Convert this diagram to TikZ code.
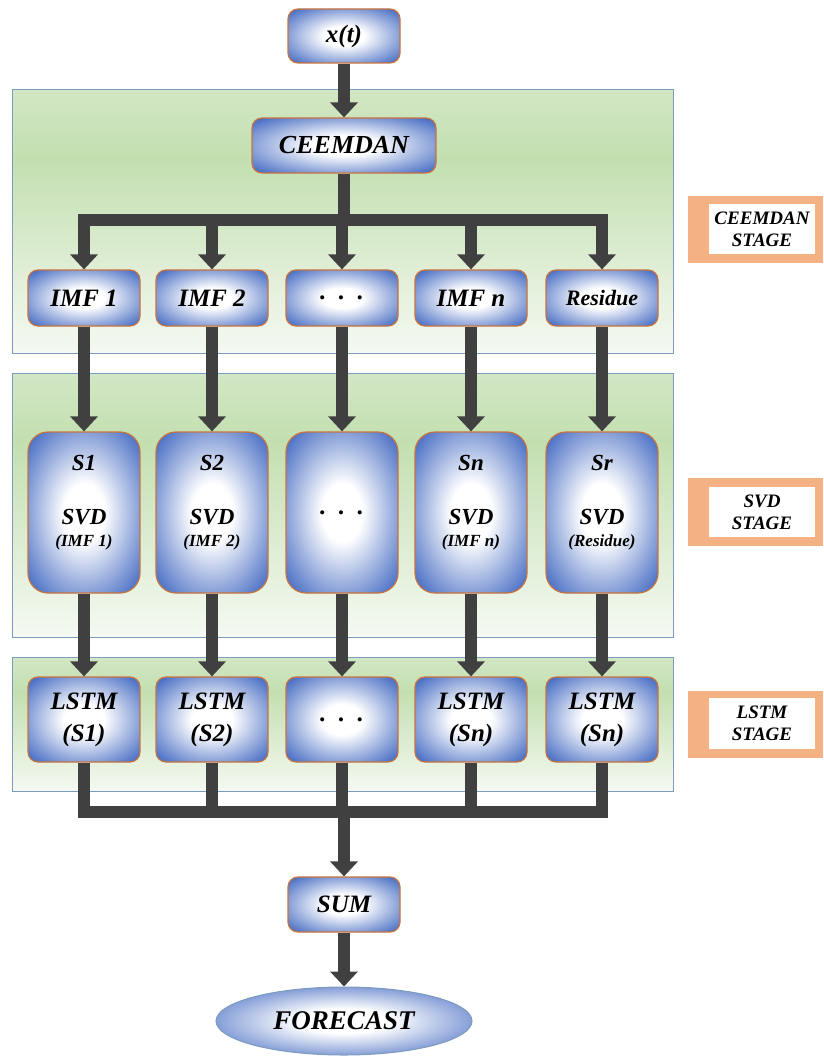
\documentclass[tikz,border=0pt]{standalone}
\usepackage{fontspec}
\setmainfont{Liberation Serif}
\usetikzlibrary{arrows.meta,shapes.geometric,calc}
\definecolor{boxblue}{HTML}{4A6FC4}
\definecolor{boxedge}{HTML}{C8733E}
\definecolor{connc}{HTML}{404040}
\definecolor{pgreen}{HTML}{C3DFB0}
\definecolor{pgreentop}{HTML}{D2E7C5}
\definecolor{pgreenbot}{HTML}{F5F9F2}
\definecolor{pedge}{HTML}{7C9CBE}
\definecolor{stageor}{HTML}{F4B183}
\pgfdeclareradialshading{boxshade}{\pgfpoint{0bp}{0bp}}{color(0bp)=(white); color(9bp)=(white); color(33bp)=(boxblue); color(50bp)=(boxblue)}
\pgfdeclareverticalshading{panelshade}{100bp}{color(0bp)=(pgreenbot); color(25bp)=(pgreenbot); color(62bp)=(pgreen); color(75bp)=(pgreentop); color(100bp)=(pgreentop)}
\tikzset{
  box/.style={draw=boxedge, line width=1.2pt, rounded corners=10pt, shading=boxshade,
    minimum width=112pt, minimum height=56pt, inner sep=0pt, align=center,
    font=\fontsize{25}{28}\selectfont\bfseries\itshape},
  tallbox/.style={box, rounded corners=20pt, minimum height=161pt},
  lstmbox/.style={box, minimum height=85pt, font=\fontsize{25}{32}\selectfont\bfseries\itshape},
  intext/.style={inner sep=0pt, font=\fontsize{23}{24}\selectfont\bfseries\itshape},
  smalltext/.style={inner sep=0pt, font=\fontsize{17}{18}\selectfont\bfseries\itshape},
  panel/.style={draw=pedge, line width=0.9pt, shading=panelshade},
  conn/.style={draw=connc, line width=12pt},
  arr/.style={conn, -{Triangle[width=27pt,length=15pt]}},
  stagetext/.style={inner sep=0pt, align=center, font=\fontsize{19}{22}\selectfont\bfseries\itshape}
}
\begin{document}
\begin{tikzpicture}[x=1pt,y=-1pt]
\useasboundingbox (0,0) rectangle (823,1057);
% panels
\path[panel] (12,89) rectangle (673,353);
\path[panel] (12,373) rectangle (673,637);
\path[panel] (12,657) rectangle (673,791);
% stage labels
\fill[stageor] (688,196) rectangle (823,263);
\fill[white] (709,204) rectangle (815,254);
\node[stagetext] (st1) at (762,229) {CEEMDAN\\STAGE};
\fill[stageor] (688,478) rectangle (823,546);
\fill[white] (709,487) rectangle (815,537);
\node[stagetext] (st2) at (762,512) {SVD\\STAGE};
\fill[stageor] (688,691) rectangle (823,758);
\fill[white] (709,698) rectangle (815,749);
\node[stagetext] (st3) at (762,723.5) {LSTM\\STAGE};
% nodes
\node[box, minimum height=54pt] (xt) at (344,36) {x(t)};
\node[box, minimum width=184pt, minimum height=55pt, font=\fontsize{26}{28}\selectfont\bfseries\itshape] (ceemdan) at (344,145.5) {CEEMDAN};
\node[box] (imf1) at (84,298) {IMF 1};
\node[box] (imf2) at (212,298) {IMF 2};
\node[box] (imf3) at (342,298) {.\ \ .\ \ .};
\node[box] (imf4) at (471,298) {IMF n};
\node[box, font=\fontsize{22}{24}\selectfont\bfseries\itshape] (imf5) at (602,298) {Residue};
% SVD boxes
\node[tallbox] (svd1) at (84,512.5) {};
\node[tallbox] (svd2) at (212,512.5) {};
\node[tallbox] (svd3) at (342,512.5) {.\ \ .\ \ .};
\node[tallbox] (svd4) at (471,512.5) {};
\node[tallbox] (svd5) at (602,512.5) {};
\node[intext] (s1a) at ($(svd1.center)+(0,-50)$) {S1};
\node[intext] (s1b) at ($(svd1.center)+(0,5)$) {SVD};
\node[smalltext] (s1c) at ($(svd1.center)+(0,30)$) {(IMF 1)};
\node[intext] (s2a) at ($(svd2.center)+(0,-50)$) {S2};
\node[intext] (s2b) at ($(svd2.center)+(0,5)$) {SVD};
\node[smalltext] (s2c) at ($(svd2.center)+(0,30)$) {(IMF 2)};
\node[intext] (s4a) at ($(svd4.center)+(0,-50)$) {Sn};
\node[intext] (s4b) at ($(svd4.center)+(0,5)$) {SVD};
\node[smalltext] (s4c) at ($(svd4.center)+(0,30)$) {(IMF n)};
\node[intext] (s5a) at ($(svd5.center)+(0,-50)$) {Sr};
\node[intext] (s5b) at ($(svd5.center)+(0,5)$) {SVD};
\node[smalltext] (s5c) at ($(svd5.center)+(0,30)$) {(Residue)};
% LSTM boxes
\node[lstmbox] (lstm1) at (84,719.5) {LSTM\\(S1)};
\node[lstmbox] (lstm2) at (212,719.5) {LSTM\\(S2)};
\node[lstmbox] (lstm3) at (342,719.5) {.\ \ .\ \ .};
\node[lstmbox] (lstm4) at (471,719.5) {LSTM\\(Sn)};
\node[lstmbox] (lstm5) at (602,719.5) {LSTM\\(Sn)};
% output
\node[box, minimum height=55pt] (sum) at (344,904.5) {SUM};
\node[draw=pedge, line width=1pt, shading=boxshade, ellipse, minimum width=256pt, minimum height=68pt, inner sep=0pt,
  font=\fontsize{27}{28}\selectfont\bfseries\itshape] (forecast) at (344,1021) {FORECAST};
% connectors
\coordinate (bt) at (344,220);
\coordinate (bb) at (344,812);
\draw[arr] (xt.south) -- (ceemdan.north);
\draw[conn] (ceemdan.south) -- (ceemdan.south |- bt);
\draw[conn, line cap=rect] (imf1.north |- bt) -- (imf5.north |- bt);
\foreach \i in {1,...,5}{
  \draw[arr] (imf\i.north |- bt) -- (imf\i.north);
  \draw[arr] (imf\i.south) -- (svd\i.north);
  \draw[arr] (svd\i.south) -- (lstm\i.north);
  \draw[conn] (lstm\i.south) -- (lstm\i.south |- bb);
}
\draw[conn, line cap=rect] (lstm1.south |- bb) -- (lstm5.south |- bb);
\draw[arr] (sum.north |- bb) -- (sum.north);
\draw[arr] (sum.south) -- (forecast.north);
\end{tikzpicture}
\end{document}
